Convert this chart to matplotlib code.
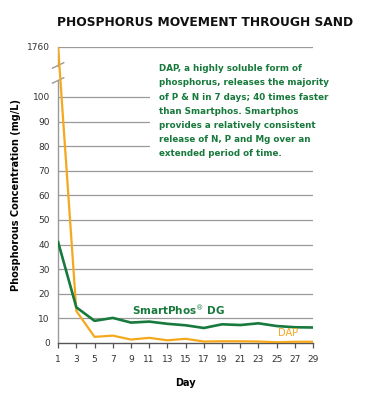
import numpy as np
import matplotlib
matplotlib.use("Agg")
import matplotlib.pyplot as plt
from matplotlib.patches import Rectangle

days = [1, 3, 5, 7, 9, 11, 13, 15, 17, 19, 21, 23, 25, 27, 29]
smartphos = [41, 14.5, 9.0, 10.2, 8.3, 8.7, 7.8, 7.2, 6.1, 7.6, 7.3, 8.0, 6.9, 6.4, 6.3]
dap = [1760, 13, 2.5, 3.0, 1.4, 2.1, 1.1, 1.7, 0.6, 0.7, 0.7, 0.6, 0.3, 0.5, 0.5]
ytick_vals = [0, 10, 20, 30, 40, 50, 60, 70, 80, 90, 100, 1760]

GREEN = "#17793b"
ORANGE = "#f5a81c"
GRID = "#9a9a9a"

plt.rcParams["font.family"] = "DejaVu Sans"

# broken y axis: 0-100 linear, everything above 100 squeezed
SQ = 20.3 / 1660.0


def fwd(y):
    y = np.asarray(y, dtype=float)
    return np.where(y <= 100, y, 100 + (y - 100) * SQ)


fig = plt.figure(figsize=(3.75, 4.0), dpi=100)
ax = fig.add_axes([0.155, 0.1425, 0.68, 0.74])
top = float(fwd(1760))
ax.set_xlim(1, 29)
ax.set_ylim(0, top)

for v in fwd(ytick_vals[1:]):
    ax.axhline(v, color=GRID, lw=0.9, zorder=1)

ax.plot(days, fwd(dap), color=ORANGE, lw=1.6, zorder=3)
ax.plot(days, fwd(smartphos), color=GREEN, lw=1.9, zorder=4)

for s in ["top", "right", "left"]:
    ax.spines[s].set_visible(False)
ax.spines["bottom"].set_color("#555555")
ax.spines["bottom"].set_linewidth(1.0)

# left spine with break marks
ytr = ax.get_yaxis_transform()
ax.plot([0, 0], [0, 106.5], color=GRID, lw=1.0, transform=ytr, clip_on=False, zorder=2)
ax.plot([0, 0], [112.5, top], color=GRID, lw=1.0, transform=ytr, clip_on=False, zorder=2)
for yb in [112.8, 106.7]:
    ax.plot([-0.022, 0.022], [yb - 1.1, yb + 1.1], color=GRID, lw=1.0,
            transform=ytr, clip_on=False, zorder=2)

ax.set_yticks(fwd(ytick_vals))
ax.set_yticklabels([str(v) for v in ytick_vals])
ax.set_xticks(days)
ax.tick_params(axis="y", length=0, pad=6, labelsize=6.5, labelcolor="#333333")
ax.tick_params(axis="x", length=3.5, width=0.9, color="#555555", pad=5,
               labelsize=6.5, labelcolor="#333333")

ax.set_xlabel("Day", fontsize=7, fontweight="bold", labelpad=10)
ax.set_ylabel("Phosphorous Concentration (mg/L)", fontsize=7, fontweight="bold", labelpad=4)

fig.text(0.547, 0.945, "PHOSPHORUS MOVEMENT THROUGH SAND", ha="center", va="center",
         fontsize=8.8, fontweight="bold", color="#111111")

# white panel behind the note hides the upper grid lines
fig.add_artist(Rectangle((150 / 375, 1 - 162 / 400), 170 / 375, 105 / 400,
                         transform=fig.transFigure, facecolor="white",
                         edgecolor="none", zorder=4))
note = ("DAP, a highly soluble form of\n"
        "phosphorus, releases the majority\n"
        "of P & N in 7 days; 40 times faster\n"
        "than Smartphos. Smartphos\n"
        "provides a relatively consistent\n"
        "release of N, P and Mg over an\n"
        "extended period of time.")
fig.text(0.424, 1 - 64 / 400, note, ha="left", va="top", fontsize=6.3, fontweight="bold",
         color=GREEN, linespacing=1.75, zorder=5)

ax.text(14.2, 13.4, "SmartPhos$^{\u00ae}$ DG", color=GREEN, fontsize=7.5, fontweight="bold",
        ha="center", va="center", zorder=5)
ax.text(26.3, 4.1, "DAP", color=ORANGE, fontsize=7, ha="center", va="center", zorder=5)

fig.savefig("out.png", dpi=100, facecolor="white")
